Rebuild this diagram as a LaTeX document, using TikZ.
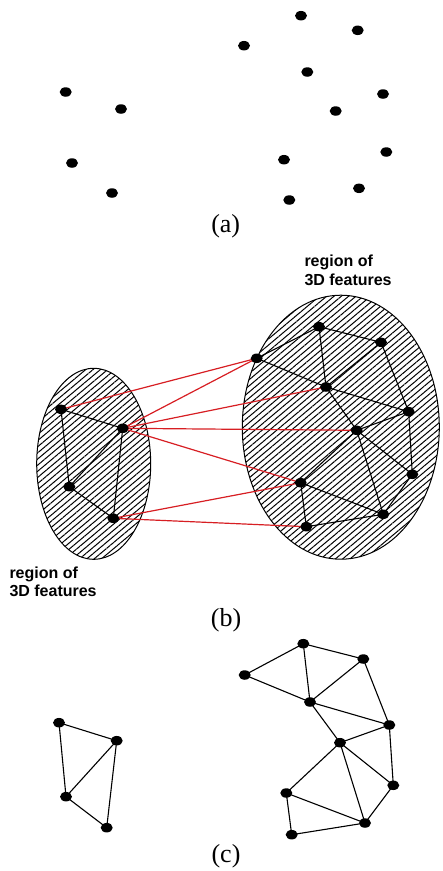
\documentclass[tikz,border=0pt]{standalone}
\usepackage{fontspec}
\setmainfont{Liberation Serif}
\setsansfont{Liberation Sans}
\usetikzlibrary{shapes.geometric,patterns.meta}
\tikzset{
  dot/.style={ellipse,fill=black,inner sep=0pt,minimum width=12pt,minimum height=9.5pt},
  edge/.style={black,line width=1.1pt},
  match/.style={draw={rgb,255:red,215;green,30;blue,35},line width=1.2pt},
  region/.style={ellipse,draw=black,line width=1pt,inner sep=0pt,
    pattern={Lines[angle=40,distance=4.7pt,line width=1pt]}},
  lbl/.style={font=\sffamily\bfseries\fontsize{16}{18}\selectfont,anchor=base west,inner sep=0pt},
  figcap/.style={font=\fontsize{26}{29}\selectfont,inner sep=0pt}
}
\begin{document}
\begin{tikzpicture}[x=1pt,y=-1pt]
\useasboundingbox (0,0) rectangle (443,871);
% ---------- (a) ----------
\node[dot] (a1) at (65.7,92) {};
\node[dot] (a2) at (121,109) {};
\node[dot] (a3) at (72,163) {};
\node[dot] (a4) at (112,193) {};
\node[dot] (a5) at (301,15.7) {};
\node[dot] (a6) at (357.7,30.3) {};
\node[dot] (a7) at (244,45.7) {};
\node[dot] (a8) at (307.3,72) {};
\node[dot] (a9) at (383,94) {};
\node[dot] (a10) at (335.7,111) {};
\node[dot] (a11) at (284,159.7) {};
\node[dot] (a12) at (386.3,152) {};
\node[dot] (a13) at (359,188.3) {};
\node[dot] (a14) at (289.3,200) {};
\node[figcap] (capa) at (225.7,226) {(a)};
% ---------- (b) ----------
\node[region,minimum width=114pt,minimum height=191pt] (regL) at (93.7,463.8) {};
\node[region,minimum width=197pt,minimum height=264pt] (regR) at (340.8,427.2) {};
\node[lbl] (tR1) at (304.3,266.7) {region of};
\node[lbl] (tR2) at (304.3,285) {3D features};
\node[lbl] (tL1) at (9.3,578.3) {region of};
\node[lbl] (tL2) at (9.3,596) {3D features};
\coordinate (L1) at (61,409.3);
\coordinate (L2) at (122.7,428.3);
\coordinate (L3) at (69.3,486.7);
\coordinate (L4) at (113.3,518.3);
\coordinate (R1) at (319,326.7);
\coordinate (R2) at (381,342.3);
\coordinate (R3) at (256.7,358.3);
\coordinate (R4) at (326,387);
\coordinate (R5) at (408.7,411.7);
\coordinate (R6) at (356.7,430.3);
\coordinate (R7) at (412.3,474.3);
\coordinate (R8) at (300.7,482.7);
\coordinate (R9) at (383.3,514.3);
\coordinate (R10) at (306.3,526.7);
\foreach \u/\v in {L1/L2,L1/L3,L2/L3,L2/L4,L3/L4,
  R1/R2,R1/R3,R1/R4,R2/R4,R2/R5,R3/R4,R4/R5,R4/R6,R5/R6,R5/R7,
  R6/R7,R6/R8,R6/R9,R8/R9,R7/R9,R8/R10,R10/R9}
  \draw[edge] (\u) -- (\v);
\foreach \u/\v in {L1/R3,L2/R3,L2/R4,L2/R6,L2/R8,L4/R8,L4/R10}
  \draw[match] (\u) -- (\v);
\foreach \p in {L1,L2,L3,L4,R1,R2,R3,R4,R5,R6,R7,R8,R9,R10}
  \node[dot] (b\p) at (\p) {};
\node[figcap] (capb) at (226,620) {(b)};
% ---------- (c) ----------
\node[dot] (D1) at (59,722.7) {};
\node[dot] (D2) at (116.7,740.7) {};
\node[dot] (D3) at (66,796.7) {};
\node[dot] (D4) at (106.7,827.7) {};
\node[dot] (C1) at (303.3,643.7) {};
\node[dot] (C2) at (363.3,659) {};
\node[dot] (C3) at (244.7,675) {};
\node[dot] (C4) at (310,702) {};
\node[dot] (C5) at (389.3,725) {};
\node[dot] (C6) at (340,742.7) {};
\node[dot] (C7) at (393.3,785.3) {};
\node[dot] (C8) at (286.3,793) {};
\node[dot] (C9) at (365,823) {};
\node[dot] (C10) at (291.7,834.7) {};
\foreach \u/\v in {D1/D2,D1/D3,D2/D3,D2/D4,D3/D4,
  C1/C2,C1/C3,C1/C4,C2/C4,C2/C5,C3/C4,C4/C5,C4/C6,C5/C6,C5/C7,
  C6/C7,C6/C8,C6/C9,C8/C9,C7/C9,C8/C10,C10/C9}
  \draw[edge] (\u.center) -- (\v.center);
\node[figcap] (capc) at (226,856.5) {(c)};
\end{tikzpicture}
\end{document}
